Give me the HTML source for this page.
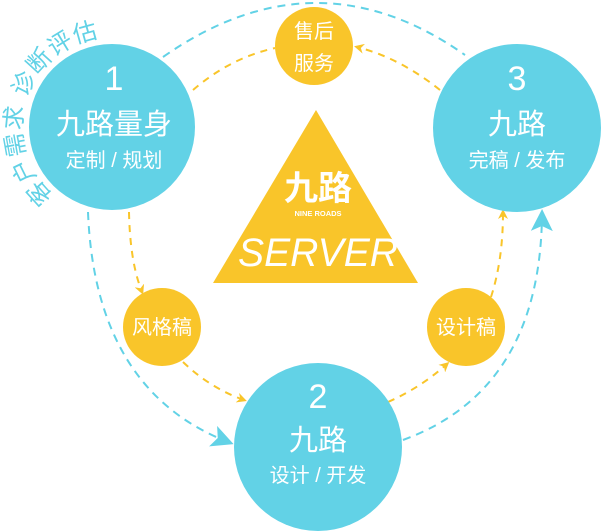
<!DOCTYPE html>
<html><head><meta charset="utf-8"><style>
html,body{margin:0;padding:0;background:#fff}
svg{display:block}
text{font-family:"Liberation Sans","Noto Sans CJK SC",sans-serif;fill:#fff}
</style></head><body>
<svg width="602" height="531" viewBox="0 0 602 531">
<defs>
<marker id="ao" markerWidth="10" markerHeight="10" refX="7" refY="5" orient="auto" markerUnits="userSpaceOnUse"><path d="M0,0 L10,5 L0,10 L3,5Z" fill="#f9c52a"/></marker>
<marker id="ab" markerWidth="22" markerHeight="22" refX="16" refY="11" orient="auto" markerUnits="userSpaceOnUse"><path d="M0,0 L22,11 L0,22 L5,11Z" fill="#62d2e6"/></marker>
</defs>
<g fill="none" stroke="#62d2e6" stroke-width="2" stroke-dasharray="8,6">
<path d="M163,57 Q316,-50 465,55"/>
<path d="M88,212 Q95,390 228,442" marker-end="url(#ab)"/>
<path d="M403,440 Q540,390 542,215" marker-end="url(#ab)"/>
</g>
<g fill="none" stroke="#f9c52a" stroke-width="2" stroke-dasharray="7,6">
<path d="M193,90 Q230,58 275,48"/>
<path d="M440,90 Q400,58 357,47" marker-end="url(#ao)"/>
<path d="M129,212 Q130,262 142,292" marker-end="url(#ao)"/>
<path d="M183,362 Q210,388 244,400" marker-end="url(#ao)"/>
<path d="M388,402 Q420,388 447,364" marker-end="url(#ao)"/>
<path d="M491,297 Q503,260 503,212" marker-end="url(#ao)"/>
</g>
<polygon points="316,110 418,283 213,283" fill="#f9c52a"/>
<text x="318" y="200" font-size="34" text-anchor="middle" font-weight="bold">九路</text>
<text x="318" y="216" font-size="7.5" text-anchor="middle" font-weight="bold">NINE ROADS</text>
<text x="318" y="266" font-size="40" text-anchor="middle" font-style="italic" textLength="160" lengthAdjust="spacingAndGlyphs">SERVER</text>
<circle cx="112" cy="127" r="83" fill="#62d2e6"/>
<circle cx="517" cy="128" r="84" fill="#62d2e6"/>
<circle cx="318" cy="447" r="84" fill="#62d2e6"/>
<circle cx="314" cy="46" r="39" fill="#f9c52a"/>
<circle cx="162" cy="327" r="39" fill="#f9c52a"/>
<circle cx="466" cy="327" r="39" fill="#f9c52a"/>
<g text-anchor="middle">
<text x="114" y="90" font-size="34">1</text>
<text x="114" y="134" font-size="29">九路量身</text>
<text x="114" y="167" font-size="20">定制 / 规划</text>
<text x="517" y="90" font-size="34">3</text>
<text x="517" y="134" font-size="29">九路</text>
<text x="517" y="167" font-size="20">完稿 / 发布</text>
<text x="318" y="408" font-size="34">2</text>
<text x="318" y="450" font-size="29">九路</text>
<text x="318" y="482" font-size="20">设计 / 开发</text>
<text x="314" y="38" font-size="20">售后</text>
<text x="314" y="70" font-size="20">服务</text>
<text x="162" y="334" font-size="20">风格稿</text>
<text x="466" y="334" font-size="20">设计稿</text>
</g>
<path id="arc" d="M54,196 A90,90 0 0 1 125,38" fill="none"/>
<text font-size="24" style="fill:#62d2e6" letter-spacing="1"><textPath href="#arc">客户需求 诊断评估</textPath></text>
</svg>
</body></html>
